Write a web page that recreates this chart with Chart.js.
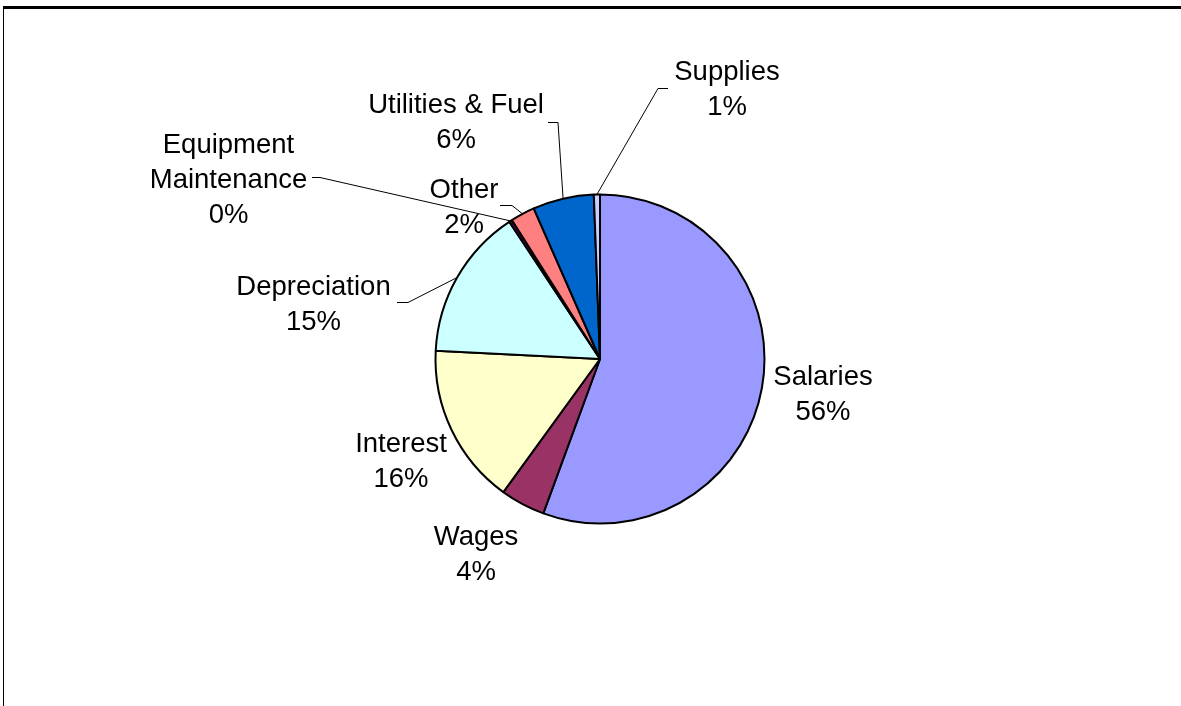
<!DOCTYPE html>
<html>
<head>
<meta charset="utf-8">
<script src="https://cdn.jsdelivr.net/npm/chart.js@4/dist/chart.umd.min.js"></script>
<style>
  html, body { margin: 0; padding: 0; background: #ffffff; }
  #wrap { position: relative; width: 1181px; height: 706px; overflow: hidden; }
  #frame { position: absolute; left: 3px; top: 6px; width: 1200px; height: 720px;
           border-top: 3px solid #000; border-left: 1px solid #000; pointer-events: none; }
  canvas { position: absolute; left: 0; top: 0; }
</style>
</head>
<body>
<div id="wrap">
  <canvas id="c" width="1181" height="706"></canvas>
  <div id="frame"></div>
</div>
<script>
// ---- data ----
const categories = ["Salaries", "Wages", "Interest", "Depreciation", "Equipment\nMaintenance", "Other", "Utilities & Fuel", "Supplies"];
const values = [55.6, 4.4, 15.8, 14.9, 0.3, 2.4, 6.0, 0.6];
const colors = ["#9999FF", "#993366", "#FFFFCC", "#CCFFFF", "#660066", "#FF8080", "#0066CC", "#CCCCFF"];

// ---- label layout (offsets relative to pie centre) ----
const labelLayout = [
  { dx: 223,    dy: 26 },
  { dx: -124,   dy: 186 },
  { dx: -199,   dy: 93 },
  { dx: -286.5, dy: -64,  leader: [-203, -192, -57] },
  { dx: -371.5, dy: -206, leader: [-288, -280, -182] },
  { dx: -136,   dy: -161, leader: [-100, -88, -154] },
  { dx: -144,   dy: -246, leader: [-52, -42, -237] },
  { dx: 127,    dy: -279, leader: [68, 58, -271] }
];

const FONT = '27.5px "Liberation Sans", Arial, sans-serif';
const LINE_H = 35;

const labelPlugin = {
  id: 'pieLabels',
  afterDraw(chart) {
    const ctx = chart.ctx;
    const meta = chart.getDatasetMeta(0);
    const total = values.reduce((a, b) => a + b, 0);
    ctx.save();
    meta.data.forEach((arc, i) => {
      const p = arc.getProps(['x', 'y', 'startAngle', 'endAngle', 'outerRadius'], true);
      const cx = p.x, cy = p.y;
      const L = labelLayout[i];
      if (L.leader) {
        const mid = (p.startAngle + p.endAngle) / 2;
        const ax = cx + Math.cos(mid) * p.outerRadius;
        const ay = cy + Math.sin(mid) * p.outerRadius;
        ctx.beginPath();
        ctx.strokeStyle = '#000';
        ctx.lineWidth = 1;
        ctx.moveTo(cx + L.leader[0], cy + L.leader[2] + 0.5);
        ctx.lineTo(cx + L.leader[1], cy + L.leader[2] + 0.5);
        ctx.lineTo(ax, ay);
        ctx.stroke();
      }
      const lines = categories[i].split('\n');
      lines.push(Math.round(values[i] / total * 100) + '%');
      ctx.font = FONT;
      ctx.fillStyle = '#000';
      ctx.textAlign = 'center';
      ctx.textBaseline = 'alphabetic';
      lines.forEach((t, k) => {
        ctx.fillText(t, cx + L.dx, cy + L.dy + k * LINE_H);
      });
    });
    ctx.restore();
  }
};

new Chart(document.getElementById('c'), {
  type: 'pie',
  data: {
    labels: categories,
    datasets: [{
      data: values,
      backgroundColor: colors,
      borderColor: '#000000',
      borderWidth: 2
    }]
  },
  options: {
    responsive: false,
    animation: false,
    layout: { padding: { left: 434.5, right: 415.5, top: 193.5, bottom: 181.5 } },
    plugins: { legend: { display: false }, tooltip: { enabled: false } }
  },
  plugins: [labelPlugin]
});
</script>
</body>
</html>
